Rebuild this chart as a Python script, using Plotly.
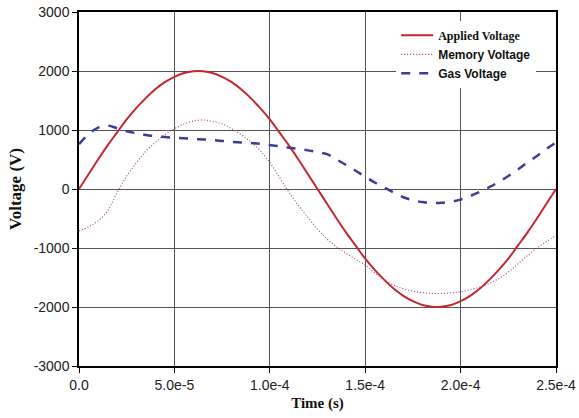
import plotly.graph_objects as go

# time in seconds (0.5e-5 steps)
time_s = [i * 0.5e-5 for i in range(51)]

applied_voltage = [
    0, 250, 500, 740, 960, 1180, 1370, 1540, 1690, 1810, 1900, 1965, 1995,
    1995, 1965, 1900, 1810, 1690, 1540, 1370, 1180, 960, 740, 500, 250, 0,
    -250, -500, -740, -960, -1180, -1370, -1540, -1690, -1810, -1900, -1965, -1995,
    -1995, -1965, -1900, -1810, -1690, -1540, -1370, -1180, -960, -740, -500, -250, 0,
]

memory_voltage = [
    -710, -640, -540, -370, -60, 220, 440, 640, 790, 920, 1020, 1100, 1150,
    1170, 1145, 1105, 1020, 920, 800, 650, 450, 200, -50, -280, -480, -680,
    -850, -980, -1090, -1190, -1290, -1420, -1540, -1630, -1690, -1730, -1755, -1768,
    -1770, -1760, -1740, -1705, -1665, -1600, -1520, -1410, -1270, -1130, -1000, -890, -790,
]

gas_voltage = [
    760, 930, 1040, 1075, 1030, 980, 945, 915, 895, 880, 870, 860, 850,
    840, 830, 815, 800, 790, 780, 765, 745, 725, 700, 680, 655, 625,
    590, 500, 407, 310, 208, 110, 25, -60, -140, -190, -222, -238,
    -235, -215, -180, -120, -50, 30, 120, 220, 330, 450, 560, 680, 790,
]

x_tick_vals = [0, 5e-5, 1e-4, 1.5e-4, 2e-4, 2.5e-4]
x_tick_text = ["0.0", "5.0e-5", "1.0e-4", "1.5e-4", "2.0e-4", "2.5e-4"]
y_tick_vals = [-3000, -2000, -1000, 0, 1000, 2000, 3000]
y_tick_text = ["-3000", "-2000", "-1000", "0", "1000", "2000", "3000"]

fig = go.Figure()
fig.add_trace(go.Scatter(
    x=time_s, y=applied_voltage, mode="lines", line_shape="spline",
    name="<b><span style='font-family:Liberation Serif, serif'>Applied Voltage</span></b>",
    line=dict(color="#c8262f", width=2),
))
fig.add_trace(go.Scatter(
    x=time_s, y=memory_voltage, mode="lines", line_shape="spline",
    name="<b>Memory Voltage</b>",
    line=dict(color="#9a3f80", width=1.1, dash="1px,2px"),
))
fig.add_trace(go.Scatter(
    x=time_s, y=gas_voltage, mode="lines", line_shape="spline",
    name="<b>Gas Voltage</b>",
    line=dict(color="#3c3c9c", width=2.5, dash="dash"),
))

fig.update_layout(
    width=579, height=418,
    margin=dict(l=79, r=23, t=12, b=52),
    paper_bgcolor="white", plot_bgcolor="white",
    font=dict(family="Liberation Sans, Arial, sans-serif", size=14, color="#222"),
    legend=dict(
        x=0.665, y=0.975, xanchor="left", yanchor="top",
        bgcolor="white", borderwidth=0,
        font=dict(size=12, color="#111"),
        tracegroupgap=0, itemwidth=32,
    ),
    showlegend=True,
)
fig.update_xaxes(
    range=[0, 2.5e-4], tickvals=x_tick_vals, ticktext=x_tick_text,
    automargin=False,
    showgrid=True, gridcolor="#555", gridwidth=1,
    showline=True, linecolor="black", linewidth=1.5, mirror=True,
    ticks="outside", ticklen=5, tickcolor="black",
    zeroline=False,
    title=dict(text="<b>Time (s)</b>", standoff=6,
               font=dict(family="Liberation Serif, Times New Roman, serif", size=15, color="#111")),
)
fig.update_yaxes(
    range=[-3000, 3000], tickvals=y_tick_vals, ticktext=y_tick_text,
    automargin=False,
    showgrid=True, gridcolor="#555", gridwidth=1,
    showline=True, linecolor="black", linewidth=1.5, mirror=True,
    ticks="outside", ticklen=5, tickcolor="black",
    zeroline=False,
    title=dict(text="<b>Voltage (V)</b>", standoff=8,
               font=dict(family="Liberation Serif, Times New Roman, serif", size=17, color="#111")),
)

fig.write_html("out.html")
